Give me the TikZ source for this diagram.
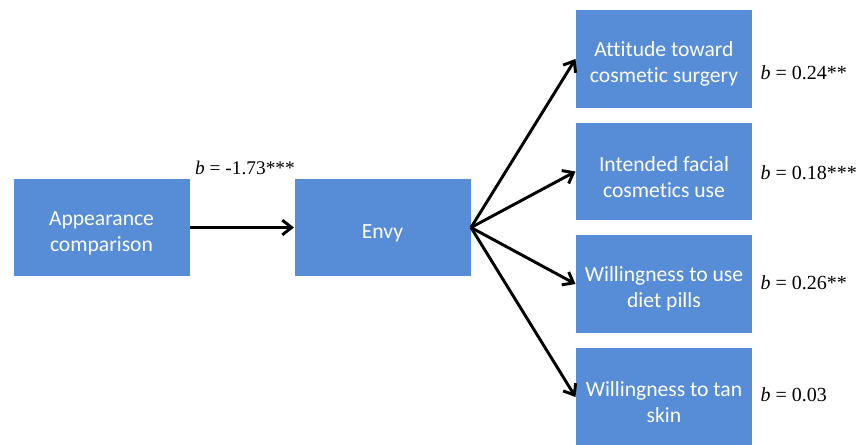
\documentclass[tikz,border=0pt]{standalone}
\usepackage{fontspec}
\setmainfont{Liberation Serif}
\newfontfamily\boxfont[Ligatures=NoCommon]{Carlito}
\usetikzlibrary{arrows.meta}

\definecolor{boxblue}{RGB}{86,141,214}
\newcommand{\boxstrut}{\rule{0pt}{19pt}}

\tikzset{every picture/.style={line width=0.75pt}}
\tikzset{
  varbox/.style={fill=boxblue, draw=none, text=white, align=center,
    minimum width=132pt, minimum height=73pt, inner sep=0pt,
    font=\boxfont\fontsize{16.2}{19.5}\selectfont},
  effect/.style={anchor=west, inner sep=0pt, font=\fontsize{15}{17}\selectfont},
  path/.style={line width=2.2pt, -{Straight Barb[length=7pt,width=11pt,line width=2.2pt]}}
}

\begin{document}
\begin{tikzpicture}[x=0.75pt,y=0.75pt,yscale=-1,xscale=1]
\clip (0,0) rectangle (862,444);
\useasboundingbox (0,0) rectangle (862,444);

% Text Node
\node [varbox] (appear) at (101.5,227.5) {\boxstrut Appearance\\comparison};
% Text Node
\node [varbox] (envy) at (382.5,227.5) {\boxstrut Envy};
% Text Node
\node [varbox] (surgery) at (664,59) {\boxstrut Attitude toward\\cosmetic surgery};
% Text Node
\node [varbox] (facial) at (664,171.5) {\boxstrut Intended facial\\cosmetics use};
% Text Node
\node [varbox] (pills) at (664,284) {\boxstrut Willingness to use\\diet pills};
% Text Node
\node [varbox] (tan) at (664,397) {\boxstrut Willingness to tan\\skin};

% Text Node
\node [inner sep=0pt, font=\fontsize{14.5}{16}\selectfont] (lblenvy) at (245,168) {\textit{b} = -1.73***};
% Text Node
\node [effect] (lblsurgery) at (760,73) {\textit{b} = 0.24**};
% Text Node
\node [effect] (lblfacial) at (760,173) {\textit{b} = 0.18***};
% Text Node
\node [effect] (lblpills) at (760,283) {\textit{b} = 0.26**};
% Text Node
\node [effect] (lbltan) at (760,395) {\textit{b} = 0.03};

% Connection
\draw [path] (appear.east) -- (envy.west);
% Connection
\draw [path] (envy.east) -- (surgery.west);
% Connection
\draw [path] (envy.east) -- (facial.west);
% Connection
\draw [path] (envy.east) -- (pills.west);
% Connection
\draw [path] (envy.east) -- (tan.west);

\end{tikzpicture}
\end{document}
